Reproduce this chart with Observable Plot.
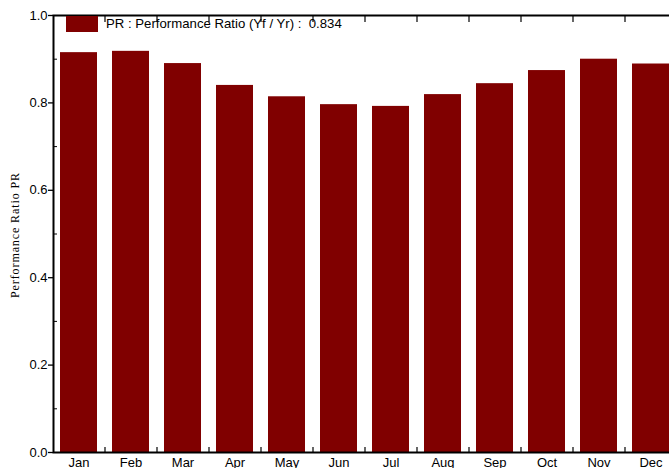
<!DOCTYPE html>
<html>
<head>
<meta charset="utf-8">
<script src="https://cdn.jsdelivr.net/npm/d3@7"></script>
<script src="https://cdn.jsdelivr.net/npm/@observablehq/plot@0.6"></script>
<style>
  html, body { margin: 0; padding: 0; background: #fff; overflow: hidden; }
  #wrap { position: relative; width: 669px; height: 468px; overflow: hidden; }
  #wrap svg { display: block; max-width: none !important; width: 677px !important; height: 468px !important; }
  #legend { position: absolute; left: 66px; top: 16px; display: flex; align-items: center;
            font-family: "Liberation Sans", Arial, sans-serif; font-size: 13.2px; color: #000; white-space: pre; }
  #legend .sw { width: 32px; height: 16px; background: #800000; margin-right: 8px; }
  #legend .tx { position: relative; top: -1px; }
  .ylab text { letter-spacing: 0.9px; }
</style>
</head>
<body>
<div id="wrap"></div>
<script>
const months = ["Jan","Feb","Mar","Apr","May","Jun","Jul","Aug","Sep","Oct","Nov","Dec"];
const pr = [0.915, 0.918, 0.890, 0.840, 0.814, 0.796, 0.792, 0.819, 0.844, 0.874, 0.900, 0.889];
const prAnnual = 0.834;
const yTicks = [0, 0.2, 0.4, 0.6, 0.8, 1.0];
const yMinor = [0.1, 0.3, 0.5, 0.7, 0.9];
const legendLabel = "PR : Performance Ratio (Yf / Yr) :  ";
const yLabel = "Performance Ratio PR";

const data = months.map((m, i) => ({month: m, pr: pr[i]}));

const chart = Plot.plot({
  width: 677,
  height: 468,
  marginLeft: 53,
  marginRight: 0,
  marginTop: 15,
  marginBottom: 16,
  style: {fontFamily: "'Liberation Sans', Arial, sans-serif", fontSize: "13px", color: "#000", background: "#fff", overflow: "visible"},
  x: {domain: months, paddingInner: 0.28, paddingOuter: 0.14, align: 0.5},
  y: {domain: [0, 1]},
  marks: [
    Plot.barY(data, {x: "month", y: "pr", fill: "#800000"}),
    Plot.ruleX(months.slice(0, -1), {x: d => d, dx: 26, insetTop: 432, stroke: "#000", strokeWidth: 1.2}),
    Plot.ruleX(months.slice(0, -1), {x: d => d, dx: 26, insetBottom: 430, stroke: "#000", strokeWidth: 1.2}),
    Plot.frame({stroke: "#000", strokeWidth: 2}),
    Plot.axisY({ticks: yTicks, tickSize: 5, tickPadding: 1, tickFormat: d3.format(".1f"), label: null, strokeWidth: 1.3}),
    Plot.axisY({ticks: yMinor, tickSize: -4, tickFormat: () => "", label: null, strokeWidth: 1}),
    Plot.axisX({tickSize: 0, tickPadding: 5, label: null}),
    Plot.text([yLabel], {frameAnchor: "left", textAnchor: "middle", rotate: -90, dx: -38, dy: 1, text: d => d,
      fontFamily: "'Liberation Serif', 'Times New Roman', serif", fontSize: 12, fill: "#000", className: "ylab"})
  ]
});

const wrap = document.getElementById("wrap");
wrap.appendChild(chart);
const leg = document.createElement("div");
leg.id = "legend";
leg.innerHTML = `<div class="sw"></div><div class="tx"></div>`;
leg.querySelector(".tx").textContent = legendLabel + prAnnual.toFixed(3);
wrap.appendChild(leg);
</script>
</body>
</html>
